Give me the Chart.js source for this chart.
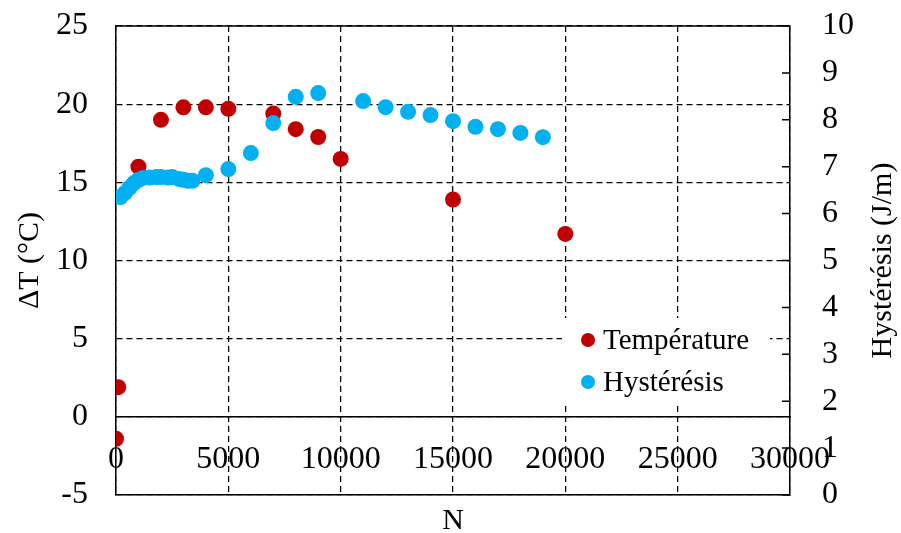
<!DOCTYPE html>
<html>
<head>
<meta charset="utf-8">
<script src="https://cdn.jsdelivr.net/npm/chart.js@4.4.0/dist/chart.umd.min.js"></script>
<style>
html,body{margin:0;padding:0;background:#fff;}
#wrap{width:901px;height:533px;position:relative;}
</style>
</head>
<body>
<div id="wrap"><canvas id="c" width="901" height="533"></canvas></div>
<script>
// ---- data ----
const tempN  = [0, 100, 1000, 2000, 3000, 4000, 5000, 7000, 8000, 9000, 10000, 15000, 20000];
const tempDT = [-1.4, 1.9, 16.0, 19.0, 19.8, 19.8, 19.7, 19.4, 18.4, 17.9, 16.5, 13.9, 11.7];

const hystN = [200, 400, 600, 800, 1000, 1200, 1500, 1800, 2000, 2300, 2500, 2800, 3000, 3200, 3400,
               4000, 5000, 6000, 7000, 8000, 9000, 11000, 12000, 13000, 14000, 15000, 16000, 17000, 18000, 19000];
const hystH = [6.35, 6.44, 6.55, 6.65, 6.72, 6.76, 6.77, 6.78, 6.78, 6.77, 6.78, 6.74, 6.72, 6.70, 6.70,
               6.82, 6.95, 7.29, 7.93, 8.49, 8.57, 8.40, 8.27, 8.17, 8.10, 7.97, 7.85, 7.80, 7.72, 7.63];

const seriesLabels = ['Température', 'Hystérésis'];
const xTitle = 'N';
const yTitle = 'ΔT (°C)';
const y2Title = 'Hystérésis (J/m)';

// ---- styles ----
const FONT = 'Liberation Serif';
const RED = '#C00000';
const BLUE = '#00B0F0';

const toPts = (xs, ys) => xs.map((x, i) => ({x: x, y: ys[i]}));

const framePlugin = {
  id: 'framePlugin',
  beforeDatasetsDraw(chart) {
    const {ctx, chartArea: a} = chart;
    ctx.save();
    ctx.strokeStyle = '#000';
    ctx.lineWidth = 1.5;
    ctx.beginPath();
    ctx.moveTo(a.left, a.top);
    ctx.lineTo(a.right, a.top);
    ctx.stroke();
    // inward ticks on right axis
    const s = chart.scales.y2;
    ctx.beginPath();
    s.ticks.forEach(t => {
      const py = s.getPixelForValue(t.value);
      ctx.moveTo(a.right, py);
      ctx.lineTo(a.right - 8, py);
    });
    ctx.stroke();
    ctx.restore();
  }
};

const legendPlugin = {
  id: 'legendPlugin',
  afterDatasetsDraw(chart) {
    const {ctx, chartArea: a} = chart;
    const bx = a.right - 228, by = a.top + 292, bw = 208, bh = 84;
    ctx.save();
    ctx.fillStyle = '#fff';
    ctx.fillRect(bx, by, bw, bh);
    ctx.font = '29px "' + FONT + '"';
    ctx.textBaseline = 'middle';
    ctx.textAlign = 'left';
    chart.data.datasets.forEach((ds, i) => {
      const cy = by + 22 + i * 42;
      ctx.fillStyle = ds.backgroundColor;
      ctx.beginPath();
      ctx.arc(bx + 26, cy, 7, 0, Math.PI * 2);
      ctx.fill();
      ctx.fillStyle = '#000';
      ctx.fillText(ds.label, bx + 41, cy + 1);
    });
    ctx.restore();
  }
};

const rightTitlePlugin = {
  id: 'rightTitlePlugin',
  afterDraw(chart) {
    const {ctx, chartArea: a} = chart;
    ctx.save();
    ctx.translate(chart.width - 18, (a.top + a.bottom) / 2);
    ctx.rotate(-Math.PI / 2);
    ctx.font = '30px "' + FONT + '"';
    ctx.fillStyle = '#000';
    ctx.textAlign = 'center';
    ctx.textBaseline = 'middle';
    ctx.fillText(y2Title, 0, 0);
    ctx.restore();
  }
};

const tickFont = {family: FONT, size: 32};
const noVPad = s => { s.paddingTop = 0; s.paddingBottom = 0; };

new Chart(document.getElementById('c'), {
  type: 'scatter',
  data: {
    datasets: [
      {label: seriesLabels[0], data: toPts(tempN, tempDT), xAxisID: 'x', yAxisID: 'y',
       backgroundColor: RED, borderColor: RED, pointRadius: 8, borderWidth: 0, order: 1},
      {label: seriesLabels[1], data: toPts(hystN, hystH), xAxisID: 'x', yAxisID: 'y2',
       backgroundColor: BLUE, borderColor: BLUE, pointRadius: 8, borderWidth: 0, order: 0}
    ]
  },
  options: {
    responsive: false,
    animation: false,
    devicePixelRatio: 1,
    layout: {padding: {top: 26, left: 0, right: 0, bottom: 0}},
    plugins: {legend: {display: false}, tooltip: {enabled: false}},
    scales: {
      x: {
        type: 'linear', position: 'bottom', min: 0, max: 30000,
        ticks: {display: false, stepSize: 5000},
        grid: {color: '#000', lineWidth: 1.25, drawTicks: false},
        border: {display: true, color: '#000', width: 1.5, dash: [6, 4]},
        title: {display: true, text: xTitle, color: '#000', font: {family: FONT, size: 30, lineHeight: 0.8}, padding: 0},
        afterFit(s) { s.height = 38; s.paddingLeft = 0; s.paddingRight = 0; }
      },
      x0: {
        type: 'linear', position: {y: 0}, min: 0, max: 30000,
        ticks: {stepSize: 5000, padding: 24, autoSkip: false, maxRotation: 0, color: '#000', font: tickFont,
                callback: v => String(v)},
        grid: {display: false, drawTicks: false},
        border: {display: true, color: '#000', width: 1.5},
        afterFit(s) { s.paddingLeft = 0; s.paddingRight = 0; }
      },
      y: {
        position: 'left', min: -5, max: 25,
        ticks: {stepSize: 5, padding: 28, color: '#000', font: tickFont},
        grid: {color: '#000', lineWidth: 1.25, drawTicks: false},
        border: {display: true, color: '#000', width: 1.5, dash: [6, 4]},
        title: {display: true, text: yTitle, color: '#000', font: {family: FONT, size: 30}, padding: 12},
        afterFit(s) { s.width = 116; noVPad(s); }
      },
      y2: {
        position: 'right', min: 0, max: 10,
        ticks: {stepSize: 1, padding: 32, color: '#000', font: tickFont},
        grid: {drawOnChartArea: false, drawTicks: false},
        border: {display: true, color: '#000', width: 1.5},
        afterFit(s) { s.width = 111; noVPad(s); }
      }
    }
  },
  plugins: [framePlugin, legendPlugin, rightTitlePlugin]
});
</script>
</body>
</html>
